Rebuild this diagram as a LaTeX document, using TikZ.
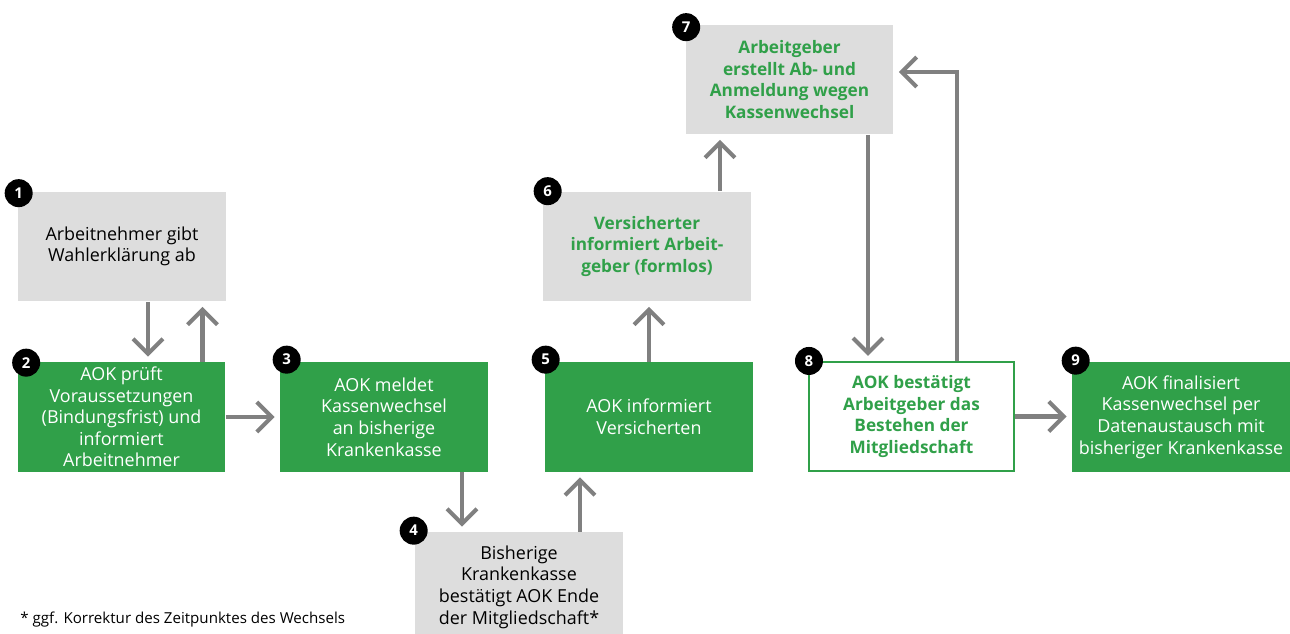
\documentclass[tikz,border=0pt]{standalone}
\usepackage{fontspec}
\setmainfont{Open Sans}
\usetikzlibrary{calc,arrows.meta}
\definecolor{aokgreen}{RGB}{48,160,73}
\definecolor{boxgray}{RGB}{221,221,221}
\definecolor{arrgray}{RGB}{128,128,128}

\begin{document}
\begin{tikzpicture}[x=0.02cm,y=-0.02cm,
  box/.style={minimum width=4.16cm,minimum height=2.2cm,inner sep=0pt,align=center,
    font=\fontsize{10.2}{12.3}\selectfont},
  graybox/.style={box,fill=boxgray,text=black},
  greenbox/.style={box,fill=aokgreen,text=white},
  hlbox/.style={box,font=\fontsize{9.8}{12.3}\selectfont\bfseries,text=aokgreen},
  badge/.style={circle,fill=black,text=white,inner sep=0pt,minimum size=0.56cm,
    font=\fontsize{8.5}{10}\selectfont\bfseries},
  arr/.style={draw=arrgray,line width=2.3pt,shorten >=0.1cm,
    -{Straight Barb[length=3mm,width=6mm]}}]
  \useasboundingbox (0,0) rectangle (1290,634);
  % Kaesten
  \node[graybox] (b1) at (122,246.5) {Arbeitnehmer gibt\\Wahlerklärung ab};
  \node[greenbox] (b2) at (121.5,417) {AOK prüft\\Voraussetzungen\\(Bindungsfrist) und\\informiert\\Arbeitnehmer};
  \node[greenbox] (b3) at (384,417) {AOK meldet\\Kassenwechsel\\an bisherige\\Krankenkasse};
  \node[graybox] (b4) at (519,587) {Bisherige\\Krankenkasse\\bestätigt AOK Ende\\der Mitgliedschaft*};
  \node[greenbox] (b5) at (649,417) {AOK informiert\\Versicherten};
  \node[graybox,hlbox] (b6) at (647,246.5) {Versicherter\\informiert Arbeit-\\geber (formlos)};
  \node[graybox,hlbox] (b7) at (789.5,79.5) {Arbeitgeber\\erstellt Ab- und\\Anmeldung wegen\\Kassenwechsel};
  \node[hlbox,fill=white,draw=aokgreen,line width=1.2pt,minimum width=4.1cm,minimum height=2.18cm] (b8) at (911.5,416.5) {AOK bestätigt\\Arbeitgeber das\\Bestehen der\\Mitgliedschaft};
  \node[greenbox,minimum width=4.36cm] (b9) at (1181,417) {AOK finalisiert\\Kassenwechsel per\\Datenaustausch mit\\bisheriger Krankenkasse};
  % Nummern
  \node[badge] (n1) at ($(b1.north west)+(1,2)$) {1};
  \node[badge] (n2) at ($(b2.north west)+(9,1)$) {2};
  \node[badge] (n3) at ($(b3.north west)+(7,-2)$) {3};
  \node[badge] (n4) at ($(b4.north west)+(-1,-1)$) {4};
  \node[badge] (n5) at ($(b5.north west)+(1,-2)$) {5};
  \node[badge] (n6) at ($(b6.north west)+(5,0)$) {6};
  \node[badge] (n7) at ($(b7.north west)+(1,3)$) {7};
  \node[badge] (n8) at ($(b8.north west)+(1,0)$) {8};
  \node[badge] (n9) at ($(b9.north west)+(4,-1)$) {9};
  % Pfeile
  \draw[arr] ([xshift=0.52cm]b1.south) -- ([xshift=0.52cm]b1.south |- b2.north);
  \draw[arr] ([xshift=1.62cm]b2.north) -- ([xshift=1.62cm]b2.north |- b1.south);
  \draw[arr] (b2.east) -- (b2.east -| b3.west);
  \draw[arr] ([xshift=1.56cm]b3.south) -- ([xshift=1.56cm]b3.south |- b4.north);
  \draw[arr] ([xshift=1.22cm]b4.north) -- ([xshift=1.22cm]b4.north |- b5.south);
  \draw[arr] (b5.north) -- (b5.north |- b6.south);
  \draw[arr] ([xshift=1.46cm]b6.north) -- ([xshift=1.46cm]b6.north |- b7.south);
  \draw[arr] ([xshift=1.57cm]b7.south) -- ([xshift=1.57cm]b7.south |- b8.north);
  \draw[arr] ([xshift=0.91cm]b8.north) |- ([yshift=0.15cm]b7.east);
  \draw[arr] (b8.east) -- (b8.east -| b9.west);
  % Fussnote
  \node[anchor=west,inner sep=0pt,font=\fontsize{8.6}{10}\selectfont] (fn) at (20,620) {* ggf. Korrektur des Zeitpunktes des Wechsels};
\end{tikzpicture}
\end{document}
